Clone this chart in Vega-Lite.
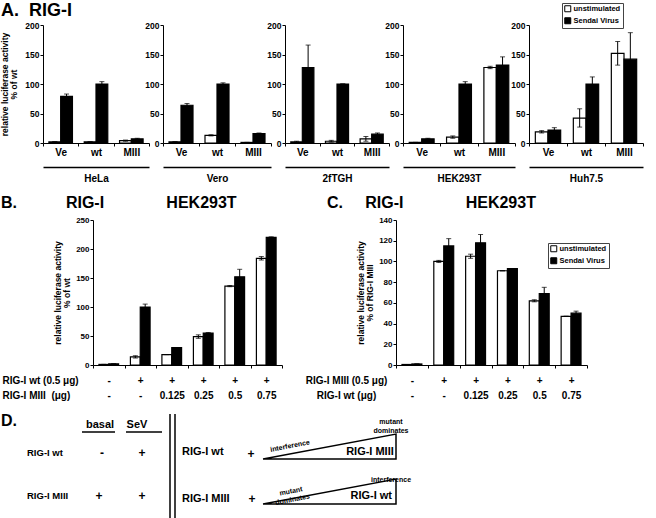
{
  "$schema": "https://vega.github.io/schema/vega-lite/v6.json",
  "background": "white",
  "padding": {"left": 0, "top": 2, "right": 0, "bottom": 0},
  "autosize": {"type": "pad"},
  "config": {
    "font": "Liberation Sans",
    "view": {"stroke": null},
    "axis": {"domainColor": "black", "tickColor": "black", "labelColor": "black", "titleColor": "black", "grid": false, "labelFont": "Liberation Sans", "titleFont": "Liberation Sans", "labelFontWeight": "bold", "titleFontWeight": "bold", "tickSize": 3, "labelPadding": 1, "domainWidth": 1, "tickWidth": 1, "labelOverlap": false},
    "legend": {"labelFont": "Liberation Sans", "labelFontWeight": "bold", "labelColor": "black", "labelFontSize": 7.5, "symbolType": "square", "symbolSize": 36, "symbolStrokeColor": "black", "symbolStrokeWidth": 1, "strokeColor": "#444", "padding": 2, "rowPadding": 1, "labelOffset": 2},
    "title": {"font": "Liberation Sans", "fontWeight": "bold", "color": "black"},
    "text": {"font": "Liberation Sans", "fontWeight": "bold", "color": "black", "fill": "black"}
  },
  "datasets": {
    "A": [
      {"line": "HeLa", "cond": "Ve", "stim": "unstimulated", "value": 2, "lo": 2, "hi": 2},
      {"line": "HeLa", "cond": "Ve", "stim": "Sendai Virus", "value": 79, "lo": 75, "hi": 83},
      {"line": "HeLa", "cond": "wt", "stim": "unstimulated", "value": 2, "lo": 2, "hi": 2},
      {"line": "HeLa", "cond": "wt", "stim": "Sendai Virus", "value": 100, "lo": 96, "hi": 104},
      {"line": "HeLa", "cond": "MIII", "stim": "unstimulated", "value": 4, "lo": 3, "hi": 5},
      {"line": "HeLa", "cond": "MIII", "stim": "Sendai Virus", "value": 7, "lo": 6, "hi": 8},
      {"line": "Vero", "cond": "Ve", "stim": "unstimulated", "value": 2, "lo": 2, "hi": 2},
      {"line": "Vero", "cond": "Ve", "stim": "Sendai Virus", "value": 64, "lo": 61, "hi": 67},
      {"line": "Vero", "cond": "wt", "stim": "unstimulated", "value": 13, "lo": 12, "hi": 14},
      {"line": "Vero", "cond": "wt", "stim": "Sendai Virus", "value": 100, "lo": 98, "hi": 102},
      {"line": "Vero", "cond": "MIII", "stim": "unstimulated", "value": 1, "lo": 1, "hi": 1},
      {"line": "Vero", "cond": "MIII", "stim": "Sendai Virus", "value": 16, "lo": 15, "hi": 17},
      {"line": "2fTGH", "cond": "Ve", "stim": "unstimulated", "value": 2, "lo": 1, "hi": 3},
      {"line": "2fTGH", "cond": "Ve", "stim": "Sendai Virus", "value": 128, "lo": 90, "hi": 166},
      {"line": "2fTGH", "cond": "wt", "stim": "unstimulated", "value": 3, "lo": 1.5, "hi": 4.5},
      {"line": "2fTGH", "cond": "wt", "stim": "Sendai Virus", "value": 100, "lo": 100, "hi": 100},
      {"line": "2fTGH", "cond": "MIII", "stim": "unstimulated", "value": 7, "lo": 3, "hi": 11},
      {"line": "2fTGH", "cond": "MIII", "stim": "Sendai Virus", "value": 15, "lo": 13, "hi": 17},
      {"line": "HEK293T", "cond": "Ve", "stim": "unstimulated", "value": 1, "lo": 1, "hi": 1},
      {"line": "HEK293T", "cond": "Ve", "stim": "Sendai Virus", "value": 7, "lo": 6, "hi": 8},
      {"line": "HEK293T", "cond": "wt", "stim": "unstimulated", "value": 10, "lo": 8, "hi": 12},
      {"line": "HEK293T", "cond": "wt", "stim": "Sendai Virus", "value": 100, "lo": 96, "hi": 104},
      {"line": "HEK293T", "cond": "MIII", "stim": "unstimulated", "value": 128, "lo": 126, "hi": 130},
      {"line": "HEK293T", "cond": "MIII", "stim": "Sendai Virus", "value": 132, "lo": 118, "hi": 146},
      {"line": "Huh7.5", "cond": "Ve", "stim": "unstimulated", "value": 19, "lo": 17, "hi": 21},
      {"line": "Huh7.5", "cond": "Ve", "stim": "Sendai Virus", "value": 22, "lo": 18, "hi": 26},
      {"line": "Huh7.5", "cond": "wt", "stim": "unstimulated", "value": 42, "lo": 27, "hi": 58},
      {"line": "Huh7.5", "cond": "wt", "stim": "Sendai Virus", "value": 100, "lo": 88, "hi": 112},
      {"line": "Huh7.5", "cond": "MIII", "stim": "unstimulated", "value": 152, "lo": 132, "hi": 172},
      {"line": "Huh7.5", "cond": "MIII", "stim": "Sendai Virus", "value": 142, "lo": 97, "hi": 187}
    ],
    "B": [
      {"cond": "-|-", "stim": "unstimulated", "value": 1, "lo": 1, "hi": 1},
      {"cond": "-|-", "stim": "Sendai Virus", "value": 2, "lo": 2, "hi": 2},
      {"cond": "+|-", "stim": "unstimulated", "value": 14, "lo": 12, "hi": 16},
      {"cond": "+|-", "stim": "Sendai Virus", "value": 100, "lo": 95, "hi": 105},
      {"cond": "+|0.125", "stim": "unstimulated", "value": 18, "lo": 18, "hi": 18},
      {"cond": "+|0.125", "stim": "Sendai Virus", "value": 30, "lo": 30, "hi": 30},
      {"cond": "+|0.25", "stim": "unstimulated", "value": 49, "lo": 46, "hi": 52},
      {"cond": "+|0.25", "stim": "Sendai Virus", "value": 55, "lo": 54, "hi": 56},
      {"cond": "+|0.5", "stim": "unstimulated", "value": 136, "lo": 135, "hi": 137},
      {"cond": "+|0.5", "stim": "Sendai Virus", "value": 152, "lo": 139, "hi": 165},
      {"cond": "+|0.75", "stim": "unstimulated", "value": 184, "lo": 181, "hi": 187},
      {"cond": "+|0.75", "stim": "Sendai Virus", "value": 220, "lo": 219, "hi": 221}
    ],
    "C": [
      {"cond": "-|-", "stim": "unstimulated", "value": 0.5, "lo": 0.5, "hi": 0.5},
      {"cond": "-|-", "stim": "Sendai Virus", "value": 1, "lo": 1, "hi": 1},
      {"cond": "+|-", "stim": "unstimulated", "value": 100, "lo": 99, "hi": 101},
      {"cond": "+|-", "stim": "Sendai Virus", "value": 115, "lo": 108, "hi": 122},
      {"cond": "+|0.125", "stim": "unstimulated", "value": 105, "lo": 103, "hi": 107},
      {"cond": "+|0.125", "stim": "Sendai Virus", "value": 118, "lo": 110, "hi": 126},
      {"cond": "+|0.25", "stim": "unstimulated", "value": 91, "lo": 91, "hi": 91},
      {"cond": "+|0.25", "stim": "Sendai Virus", "value": 93, "lo": 93, "hi": 93},
      {"cond": "+|0.5", "stim": "unstimulated", "value": 62, "lo": 61, "hi": 63},
      {"cond": "+|0.5", "stim": "Sendai Virus", "value": 69, "lo": 63, "hi": 75},
      {"cond": "+|0.75", "stim": "unstimulated", "value": 47, "lo": 47, "hi": 47},
      {"cond": "+|0.75", "stim": "Sendai Virus", "value": 50, "lo": 48, "hi": 52}
    ],
    "Dbig": [{"t": "D.", "u": 0, "v": 32.7}],
    "Dhead": [{"t": "basal", "u": 24.75, "v": 31.3}, {"t": "SeV", "u": 34, "v": 31.3}],
    "Drow": [{"t": "RIG-I wt", "u": 6.5, "v": 22}, {"t": "RIG-I MIII", "u": 6.5, "v": 7.7}],
    "Drow2": [{"t": "RIG-I wt", "u": 45.25, "v": 22.5}, {"t": "RIG-I MIII", "u": 45.25, "v": 6.7}],
    "Dsign": [
      {"t": "-", "u": 25.25, "v": 22}, {"t": "+", "u": 35.25, "v": 22},
      {"t": "+", "u": 24.5, "v": 7.7}, {"t": "+", "u": 35.25, "v": 7.7},
      {"t": "+", "u": 62.5, "v": 21.7}, {"t": "+", "u": 62.75, "v": 6.7}
    ],
    "Dtri_label": [{"t": "RIG-I MIII", "u": 98.2, "v": 22.5}, {"t": "RIG-I wt", "u": 97.75, "v": 7.7}],
    "Dsmall": [{"t": "mutant\ndominates", "u": 97.5, "v": 32.3}, {"t": "interference", "u": 97.5, "v": 13}],
    "Dslant": [{"t": "interference", "u": 72.25, "v": 24.3}, {"t": "mutant\ndominates", "u": 72.5, "v": 9.2}],
    "Dlines": [
      {"u": 20.25, "u2": 28.5, "v": 29, "v2": 29},
      {"u": 31.25, "u2": 40.25, "v": 29, "v2": 29},
      {"u": 42.25, "u2": 42.25, "v": 0, "v2": 35},
      {"u": 43.5, "u2": 43.5, "v": 0, "v2": 35}
    ],
    "Dtri": [
      {"id": 1, "o": 1, "u": 65.5, "v": 20}, {"id": 1, "o": 2, "u": 98.75, "v": 20}, {"id": 1, "o": 3, "u": 98.75, "v": 28.3}, {"id": 1, "o": 4, "u": 65.5, "v": 20},
      {"id": 2, "o": 1, "u": 65.5, "v": 5}, {"id": 2, "o": 2, "u": 98.75, "v": 5}, {"id": 2, "o": 3, "u": 98.75, "v": 13.3}, {"id": 2, "o": 4, "u": 65.5, "v": 5}
    ]
  },
  "concat": [
    {
      "hconcat": [
        {
          "width": 106, "height": 118,
          "data": {"name": "A"},
          "transform": [{"filter": "datum.line === 'HeLa'"}],
          "title": {"text": "A.\u00a0\u00a0RIG-I", "anchor": "start", "frame": "group", "dx": -42, "fontSize": 18, "offset": 1},
          "layer": [
            {"layer": [
              {"mark": {"type": "bar", "stroke": "black", "strokeWidth": 1.2},
               "encoding": {
                 "x": {"field": "cond", "type": "nominal", "sort": ["Ve", "wt", "MIII"], "scale": {"paddingInner": 0, "paddingOuter": 0}, "axis": {"title": null, "tickBand": "extent", "labelAngle": 0, "labelFontSize": 10}},
                 "xOffset": {"field": "stim", "type": "nominal", "sort": ["unstimulated", "Sendai Virus"], "scale": {"paddingInner": 0, "paddingOuter": 0.5}},
                 "y": {"field": "value", "type": "quantitative", "scale": {"domain": [0, 200], "nice": false}, "axis": {"values": [0, 50, 100, 150, 200], "title": ["relative luciferase activity", "% of wt"], "titleFontSize": 8.5, "titleLineHeight": 9, "titlePadding": 6, "labelFontSize": 8.5}},
                 "fill": {"field": "stim", "type": "nominal", "scale": {"domain": ["unstimulated", "Sendai Virus"], "range": ["white", "black"]}, "legend": null}
               }},
              {"mark": {"type": "rule", "color": "black", "strokeWidth": 1},
               "encoding": {"x": {"field": "cond", "type": "nominal", "sort": ["Ve", "wt", "MIII"]}, "xOffset": {"field": "stim", "type": "nominal", "sort": ["unstimulated", "Sendai Virus"]}, "y": {"field": "lo", "type": "quantitative", "axis": {"values": [0, 50, 100, 150, 200]}}, "y2": {"field": "hi"}}},
              {"mark": {"type": "tick", "color": "black", "thickness": 1, "size": 5},
               "encoding": {"x": {"field": "cond", "type": "nominal", "sort": ["Ve", "wt", "MIII"]}, "xOffset": {"field": "stim", "type": "nominal", "sort": ["unstimulated", "Sendai Virus"]}, "y": {"field": "hi", "type": "quantitative", "axis": {"values": [0, 50, 100, 150, 200]}}}},
              {"mark": {"type": "tick", "color": "black", "thickness": 1, "size": 5},
               "encoding": {"x": {"field": "cond", "type": "nominal", "sort": ["Ve", "wt", "MIII"]}, "xOffset": {"field": "stim", "type": "nominal", "sort": ["unstimulated", "Sendai Virus"]}, "y": {"field": "lo", "type": "quantitative", "axis": {"values": [0, 50, 100, 150, 200]}}}}
            ]},
            {"mark": {"type": "rule", "opacity": 0},
             "encoding": {"x": {"field": "cond", "type": "nominal", "sort": ["Ve", "wt", "MIII"], "axis": {"orient": "bottom", "offset": 24, "domainWidth": 1.5, "ticks": false, "labels": false, "title": "HeLa", "titleFontSize": 10, "titlePadding": 6}}}}
          ],
          "resolve": {"scale": {"x": "independent"}, "axis": {"x": "independent"}}
        },
        {
          "width": 108, "height": 118,
          "data": {"name": "A"},
          "transform": [{"filter": "datum.line === 'Vero'"}],
          "layer": [
            {"layer": [
              {"mark": {"type": "bar", "stroke": "black", "strokeWidth": 1.2},
               "encoding": {
                 "x": {"field": "cond", "type": "nominal", "sort": ["Ve", "wt", "MIII"], "scale": {"paddingInner": 0, "paddingOuter": 0}, "axis": {"title": null, "tickBand": "extent", "labelAngle": 0, "labelFontSize": 10}},
                 "xOffset": {"field": "stim", "type": "nominal", "sort": ["unstimulated", "Sendai Virus"], "scale": {"paddingInner": 0, "paddingOuter": 0.5}},
                 "y": {"field": "value", "type": "quantitative", "scale": {"domain": [0, 200], "nice": false}, "axis": {"values": [0, 50, 100, 150, 200], "title": null, "labelFontSize": 8.5}},
                 "fill": {"field": "stim", "type": "nominal", "scale": {"domain": ["unstimulated", "Sendai Virus"], "range": ["white", "black"]}, "legend": null}
               }},
              {"mark": {"type": "rule", "color": "black", "strokeWidth": 1},
               "encoding": {"x": {"field": "cond", "type": "nominal", "sort": ["Ve", "wt", "MIII"]}, "xOffset": {"field": "stim", "type": "nominal", "sort": ["unstimulated", "Sendai Virus"]}, "y": {"field": "lo", "type": "quantitative", "axis": {"values": [0, 50, 100, 150, 200]}}, "y2": {"field": "hi"}}},
              {"mark": {"type": "tick", "color": "black", "thickness": 1, "size": 5},
               "encoding": {"x": {"field": "cond", "type": "nominal", "sort": ["Ve", "wt", "MIII"]}, "xOffset": {"field": "stim", "type": "nominal", "sort": ["unstimulated", "Sendai Virus"]}, "y": {"field": "hi", "type": "quantitative", "axis": {"values": [0, 50, 100, 150, 200]}}}},
              {"mark": {"type": "tick", "color": "black", "thickness": 1, "size": 5},
               "encoding": {"x": {"field": "cond", "type": "nominal", "sort": ["Ve", "wt", "MIII"]}, "xOffset": {"field": "stim", "type": "nominal", "sort": ["unstimulated", "Sendai Virus"]}, "y": {"field": "lo", "type": "quantitative", "axis": {"values": [0, 50, 100, 150, 200]}}}}
            ]},
            {"mark": {"type": "rule", "opacity": 0},
             "encoding": {"x": {"field": "cond", "type": "nominal", "sort": ["Ve", "wt", "MIII"], "axis": {"orient": "bottom", "offset": 24, "domainWidth": 1.5, "ticks": false, "labels": false, "title": "Vero", "titleFontSize": 10, "titlePadding": 6}}}}
          ],
          "resolve": {"scale": {"x": "independent"}, "axis": {"x": "independent"}}
        },
        {
          "width": 104, "height": 118,
          "data": {"name": "A"},
          "transform": [{"filter": "datum.line === '2fTGH'"}],
          "layer": [
            {"layer": [
              {"mark": {"type": "bar", "stroke": "black", "strokeWidth": 1.2},
               "encoding": {
                 "x": {"field": "cond", "type": "nominal", "sort": ["Ve", "wt", "MIII"], "scale": {"paddingInner": 0, "paddingOuter": 0}, "axis": {"title": null, "tickBand": "extent", "labelAngle": 0, "labelFontSize": 10}},
                 "xOffset": {"field": "stim", "type": "nominal", "sort": ["unstimulated", "Sendai Virus"], "scale": {"paddingInner": 0, "paddingOuter": 0.5}},
                 "y": {"field": "value", "type": "quantitative", "scale": {"domain": [0, 200], "nice": false}, "axis": {"values": [0, 50, 100, 150, 200], "title": null, "labelFontSize": 8.5}},
                 "fill": {"field": "stim", "type": "nominal", "scale": {"domain": ["unstimulated", "Sendai Virus"], "range": ["white", "black"]}, "legend": null}
               }},
              {"mark": {"type": "rule", "color": "black", "strokeWidth": 1},
               "encoding": {"x": {"field": "cond", "type": "nominal", "sort": ["Ve", "wt", "MIII"]}, "xOffset": {"field": "stim", "type": "nominal", "sort": ["unstimulated", "Sendai Virus"]}, "y": {"field": "lo", "type": "quantitative", "axis": {"values": [0, 50, 100, 150, 200]}}, "y2": {"field": "hi"}}},
              {"mark": {"type": "tick", "color": "black", "thickness": 1, "size": 5},
               "encoding": {"x": {"field": "cond", "type": "nominal", "sort": ["Ve", "wt", "MIII"]}, "xOffset": {"field": "stim", "type": "nominal", "sort": ["unstimulated", "Sendai Virus"]}, "y": {"field": "hi", "type": "quantitative", "axis": {"values": [0, 50, 100, 150, 200]}}}},
              {"mark": {"type": "tick", "color": "black", "thickness": 1, "size": 5},
               "encoding": {"x": {"field": "cond", "type": "nominal", "sort": ["Ve", "wt", "MIII"]}, "xOffset": {"field": "stim", "type": "nominal", "sort": ["unstimulated", "Sendai Virus"]}, "y": {"field": "lo", "type": "quantitative", "axis": {"values": [0, 50, 100, 150, 200]}}}}
            ]},
            {"mark": {"type": "rule", "opacity": 0},
             "encoding": {"x": {"field": "cond", "type": "nominal", "sort": ["Ve", "wt", "MIII"], "axis": {"orient": "bottom", "offset": 24, "domainWidth": 1.5, "ticks": false, "labels": false, "title": "2fTGH", "titleFontSize": 10, "titlePadding": 6}}}}
          ],
          "resolve": {"scale": {"x": "independent"}, "axis": {"x": "independent"}}
        },
        {
          "width": 112, "height": 118,
          "data": {"name": "A"},
          "transform": [{"filter": "datum.line === 'HEK293T'"}],
          "layer": [
            {"layer": [
              {"mark": {"type": "bar", "stroke": "black", "strokeWidth": 1.2},
               "encoding": {
                 "x": {"field": "cond", "type": "nominal", "sort": ["Ve", "wt", "MIII"], "scale": {"paddingInner": 0, "paddingOuter": 0}, "axis": {"title": null, "tickBand": "extent", "labelAngle": 0, "labelFontSize": 10}},
                 "xOffset": {"field": "stim", "type": "nominal", "sort": ["unstimulated", "Sendai Virus"], "scale": {"paddingInner": 0, "paddingOuter": 0.5}},
                 "y": {"field": "value", "type": "quantitative", "scale": {"domain": [0, 200], "nice": false}, "axis": {"values": [0, 50, 100, 150, 200], "title": null, "labelFontSize": 8.5}},
                 "fill": {"field": "stim", "type": "nominal", "scale": {"domain": ["unstimulated", "Sendai Virus"], "range": ["white", "black"]}, "legend": null}
               }},
              {"mark": {"type": "rule", "color": "black", "strokeWidth": 1},
               "encoding": {"x": {"field": "cond", "type": "nominal", "sort": ["Ve", "wt", "MIII"]}, "xOffset": {"field": "stim", "type": "nominal", "sort": ["unstimulated", "Sendai Virus"]}, "y": {"field": "lo", "type": "quantitative", "axis": {"values": [0, 50, 100, 150, 200]}}, "y2": {"field": "hi"}}},
              {"mark": {"type": "tick", "color": "black", "thickness": 1, "size": 5},
               "encoding": {"x": {"field": "cond", "type": "nominal", "sort": ["Ve", "wt", "MIII"]}, "xOffset": {"field": "stim", "type": "nominal", "sort": ["unstimulated", "Sendai Virus"]}, "y": {"field": "hi", "type": "quantitative", "axis": {"values": [0, 50, 100, 150, 200]}}}},
              {"mark": {"type": "tick", "color": "black", "thickness": 1, "size": 5},
               "encoding": {"x": {"field": "cond", "type": "nominal", "sort": ["Ve", "wt", "MIII"]}, "xOffset": {"field": "stim", "type": "nominal", "sort": ["unstimulated", "Sendai Virus"]}, "y": {"field": "lo", "type": "quantitative", "axis": {"values": [0, 50, 100, 150, 200]}}}}
            ]},
            {"mark": {"type": "rule", "opacity": 0},
             "encoding": {"x": {"field": "cond", "type": "nominal", "sort": ["Ve", "wt", "MIII"], "axis": {"orient": "bottom", "offset": 24, "domainWidth": 1.5, "ticks": false, "labels": false, "title": "HEK293T", "titleFontSize": 10, "titlePadding": 6}}}}
          ],
          "resolve": {"scale": {"x": "independent"}, "axis": {"x": "independent"}}
        },
        {
          "width": 114, "height": 118,
          "data": {"name": "A"},
          "transform": [{"filter": "datum.line === 'Huh7.5'"}],
          "layer": [
            {"layer": [
              {"mark": {"type": "bar", "stroke": "black", "strokeWidth": 1.2},
               "encoding": {
                 "x": {"field": "cond", "type": "nominal", "sort": ["Ve", "wt", "MIII"], "scale": {"paddingInner": 0, "paddingOuter": 0}, "axis": {"title": null, "tickBand": "extent", "labelAngle": 0, "labelFontSize": 10}},
                 "xOffset": {"field": "stim", "type": "nominal", "sort": ["unstimulated", "Sendai Virus"], "scale": {"paddingInner": 0, "paddingOuter": 0.5}},
                 "y": {"field": "value", "type": "quantitative", "scale": {"domain": [0, 200], "nice": false}, "axis": {"values": [0, 50, 100, 150, 200], "title": null, "labelFontSize": 8.5}},
                 "fill": {"field": "stim", "type": "nominal", "scale": {"domain": ["unstimulated", "Sendai Virus"], "range": ["white", "black"]}, "legend": {"orient": "none", "legendX": 33, "legendY": -22, "title": null}}
               }},
              {"mark": {"type": "rule", "color": "black", "strokeWidth": 1},
               "encoding": {"x": {"field": "cond", "type": "nominal", "sort": ["Ve", "wt", "MIII"]}, "xOffset": {"field": "stim", "type": "nominal", "sort": ["unstimulated", "Sendai Virus"]}, "y": {"field": "lo", "type": "quantitative", "axis": {"values": [0, 50, 100, 150, 200]}}, "y2": {"field": "hi"}}},
              {"mark": {"type": "tick", "color": "black", "thickness": 1, "size": 5},
               "encoding": {"x": {"field": "cond", "type": "nominal", "sort": ["Ve", "wt", "MIII"]}, "xOffset": {"field": "stim", "type": "nominal", "sort": ["unstimulated", "Sendai Virus"]}, "y": {"field": "hi", "type": "quantitative", "axis": {"values": [0, 50, 100, 150, 200]}}}},
              {"mark": {"type": "tick", "color": "black", "thickness": 1, "size": 5},
               "encoding": {"x": {"field": "cond", "type": "nominal", "sort": ["Ve", "wt", "MIII"]}, "xOffset": {"field": "stim", "type": "nominal", "sort": ["unstimulated", "Sendai Virus"]}, "y": {"field": "lo", "type": "quantitative", "axis": {"values": [0, 50, 100, 150, 200]}}}}
            ]},
            {"mark": {"type": "rule", "opacity": 0},
             "encoding": {"x": {"field": "cond", "type": "nominal", "sort": ["Ve", "wt", "MIII"], "axis": {"orient": "bottom", "offset": 24, "domainWidth": 1.5, "ticks": false, "labels": false, "title": "Huh7.5", "titleFontSize": 10, "titlePadding": 6}}}}
          ],
          "resolve": {"scale": {"x": "independent"}, "axis": {"x": "independent"}}
        }
      ],
      "spacing": -6,
      "resolve": {"scale": {"x": "independent", "y": "independent", "fill": "independent", "xOffset": "independent"}, "legend": {"fill": "independent"}}
    },
    {
      "hconcat": [
        {"width": 1, "height": 1, "data": {"values": [{}]}, "mark": {"type": "point", "opacity": 0}},
        {
          "hconcat": [
            {
              "width": 189, "height": 145,
              "data": {"name": "B"},
              "title": {"text": "B.\u00a0\u00a0\u00a0\u00a0\u00a0\u00a0\u00a0\u00a0\u00a0\u00a0\u00a0RIG-I\u00a0\u00a0\u00a0\u00a0\u00a0\u00a0\u00a0\u00a0\u00a0\u00a0\u00a0\u00a0\u00a0\u00a0HEK293T", "anchor": "start", "frame": "group", "dx": -92, "fontSize": 16, "offset": 5},
              "layer": [
                {"mark": {"type": "bar", "stroke": "black", "strokeWidth": 1.2},
                 "encoding": {
                   "x": {"field": "cond", "type": "nominal", "sort": ["-|-", "+|-", "+|0.125", "+|0.25", "+|0.5", "+|0.75"], "scale": {"paddingInner": 0, "paddingOuter": 0},
                         "axis": {"tickBand": "extent", "labelAngle": 0, "labelExpr": "isValid(datum.value) ? split(datum.value, '|') : ''", "labelLineHeight": 15, "labelFontSize": 10, "labelPadding": 7,
                                  "title": ["RIG-I wt (0.5 μg)", "RIG-I MIII\u00a0 (μg)"], "titleFontSize": 10, "titleLineHeight": 15, "titleAlign": "left", "titleAnchor": "start", "titleX": -91, "titleY": 10, "titleBaseline": "top"}},
                   "xOffset": {"field": "stim", "type": "nominal", "sort": ["unstimulated", "Sendai Virus"], "scale": {"paddingInner": 0, "paddingOuter": 0.6}},
                   "y": {"field": "value", "type": "quantitative", "scale": {"domain": [0, 250], "nice": false}, "axis": {"values": [0, 50, 100, 150, 200, 250], "title": ["relative luciferase activity", "% of wt"], "titleFontSize": 8.5, "titleLineHeight": 9, "titlePadding": 4, "labelFontSize": 8}},
                   "fill": {"field": "stim", "type": "nominal", "scale": {"domain": ["unstimulated", "Sendai Virus"], "range": ["white", "black"]}, "legend": null}
                 }},
                {"mark": {"type": "rule", "color": "black", "strokeWidth": 1},
                 "encoding": {"x": {"field": "cond", "type": "nominal", "sort": ["-|-", "+|-", "+|0.125", "+|0.25", "+|0.5", "+|0.75"]}, "xOffset": {"field": "stim", "type": "nominal", "sort": ["unstimulated", "Sendai Virus"]}, "y": {"field": "lo", "type": "quantitative", "axis": {"values": [0, 50, 100, 150, 200, 250]}}, "y2": {"field": "hi"}}},
                {"mark": {"type": "tick", "color": "black", "thickness": 1, "size": 5},
                 "encoding": {"x": {"field": "cond", "type": "nominal", "sort": ["-|-", "+|-", "+|0.125", "+|0.25", "+|0.5", "+|0.75"]}, "xOffset": {"field": "stim", "type": "nominal", "sort": ["unstimulated", "Sendai Virus"]}, "y": {"field": "hi", "type": "quantitative", "axis": {"values": [0, 50, 100, 150, 200, 250]}}}},
                {"mark": {"type": "tick", "color": "black", "thickness": 1, "size": 5},
                 "encoding": {"x": {"field": "cond", "type": "nominal", "sort": ["-|-", "+|-", "+|0.125", "+|0.25", "+|0.5", "+|0.75"]}, "xOffset": {"field": "stim", "type": "nominal", "sort": ["unstimulated", "Sendai Virus"]}, "y": {"field": "lo", "type": "quantitative", "axis": {"values": [0, 50, 100, 150, 200, 250]}}}}
              ]
            },
            {
              "width": 191, "height": 145,
              "data": {"name": "C"},
              "title": {"text": "C.\u00a0\u00a0\u00a0\u00a0\u00a0RIG-I\u00a0\u00a0\u00a0\u00a0\u00a0\u00a0\u00a0\u00a0\u00a0\u00a0\u00a0\u00a0\u00a0\u00a0HEK293T", "anchor": "start", "frame": "group", "dx": -69, "fontSize": 16, "offset": 5},
              "layer": [
                {"mark": {"type": "bar", "stroke": "black", "strokeWidth": 1.2},
                 "encoding": {
                   "x": {"field": "cond", "type": "nominal", "sort": ["-|-", "+|-", "+|0.125", "+|0.25", "+|0.5", "+|0.75"], "scale": {"paddingInner": 0, "paddingOuter": 0},
                         "axis": {"tickBand": "extent", "labelAngle": 0, "labelExpr": "isValid(datum.value) ? split(datum.value, '|') : ''", "labelLineHeight": 15, "labelFontSize": 10, "labelPadding": 7,
                                  "title": ["RIG-I MIII (0.5 μg)", "RIG-I wt (μg)"], "titleFontSize": 10, "titleLineHeight": 15, "titleAlign": "center", "titleAnchor": "start", "titleX": -50, "titleY": 10, "titleBaseline": "top"}},
                   "xOffset": {"field": "stim", "type": "nominal", "sort": ["unstimulated", "Sendai Virus"], "scale": {"paddingInner": 0, "paddingOuter": 0.6}},
                   "y": {"field": "value", "type": "quantitative", "scale": {"domain": [0, 140], "nice": false}, "axis": {"values": [0, 20, 40, 60, 80, 100, 120, 140], "title": ["relative luciferase activity", "% of RIG-I MIII"], "titleFontSize": 8.5, "titleLineHeight": 9, "titlePadding": 4, "labelFontSize": 8}},
                   "fill": {"field": "stim", "type": "nominal", "scale": {"domain": ["unstimulated", "Sendai Virus"], "range": ["white", "black"]}, "legend": {"orient": "none", "legendX": 152, "legendY": 23, "title": null}}
                 }},
                {"mark": {"type": "rule", "color": "black", "strokeWidth": 1},
                 "encoding": {"x": {"field": "cond", "type": "nominal", "sort": ["-|-", "+|-", "+|0.125", "+|0.25", "+|0.5", "+|0.75"]}, "xOffset": {"field": "stim", "type": "nominal", "sort": ["unstimulated", "Sendai Virus"]}, "y": {"field": "lo", "type": "quantitative", "axis": {"values": [0, 20, 40, 60, 80, 100, 120, 140]}}, "y2": {"field": "hi"}}},
                {"mark": {"type": "tick", "color": "black", "thickness": 1, "size": 5},
                 "encoding": {"x": {"field": "cond", "type": "nominal", "sort": ["-|-", "+|-", "+|0.125", "+|0.25", "+|0.5", "+|0.75"]}, "xOffset": {"field": "stim", "type": "nominal", "sort": ["unstimulated", "Sendai Virus"]}, "y": {"field": "hi", "type": "quantitative", "axis": {"values": [0, 20, 40, 60, 80, 100, 120, 140]}}}},
                {"mark": {"type": "tick", "color": "black", "thickness": 1, "size": 5},
                 "encoding": {"x": {"field": "cond", "type": "nominal", "sort": ["-|-", "+|-", "+|0.125", "+|0.25", "+|0.5", "+|0.75"]}, "xOffset": {"field": "stim", "type": "nominal", "sort": ["unstimulated", "Sendai Virus"]}, "y": {"field": "lo", "type": "quantitative", "axis": {"values": [0, 20, 40, 60, 80, 100, 120, 140]}}}}
              ]
            }
          ],
          "spacing": 22,
          "resolve": {"scale": {"x": "independent", "y": "independent", "fill": "independent", "xOffset": "independent"}, "legend": {"fill": "independent"}}
        }
      ],
      "spacing": -46,
      "resolve": {"scale": {"x": "independent", "y": "independent", "fill": "independent", "xOffset": "independent"}, "legend": {"fill": "independent"}}
    },
    {
      "width": 400, "height": 105,
      "layer": [
        {"data": {"name": "Dtri"}, "mark": {"type": "line", "color": "black", "strokeWidth": 1.5},
         "encoding": {"x": {"field": "u", "type": "quantitative", "scale": {"domain": [10.5, 110.5], "nice": false, "zero": false}, "axis": null}, "y": {"field": "v", "type": "quantitative", "scale": {"domain": [0, 35], "nice": false, "zero": false}, "axis": null}, "order": {"field": "o"}, "detail": {"field": "id"}}},
        {"data": {"name": "Dlines"}, "mark": {"type": "rule", "color": "black", "strokeWidth": 1.5},
         "encoding": {"x": {"field": "u", "type": "quantitative"}, "x2": {"field": "u2"}, "y": {"field": "v", "type": "quantitative"}, "y2": {"field": "v2"}}},
        {"data": {"name": "Dbig"}, "mark": {"type": "text", "fontSize": 16, "align": "left", "baseline": "middle", "fill": "black"},
         "encoding": {"x": {"field": "u", "type": "quantitative"}, "y": {"field": "v", "type": "quantitative"}, "text": {"field": "t"}}},
        {"data": {"name": "Dhead"}, "mark": {"type": "text", "fontSize": 11, "align": "center", "baseline": "middle", "fill": "black"},
         "encoding": {"x": {"field": "u", "type": "quantitative"}, "y": {"field": "v", "type": "quantitative"}, "text": {"field": "t"}}},
        {"data": {"name": "Drow"}, "mark": {"type": "text", "fontSize": 9.5, "align": "left", "baseline": "middle", "fill": "black"},
         "encoding": {"x": {"field": "u", "type": "quantitative"}, "y": {"field": "v", "type": "quantitative"}, "text": {"field": "t"}}},
        {"data": {"name": "Drow2"}, "mark": {"type": "text", "fontSize": 11, "align": "left", "baseline": "middle", "fill": "black"},
         "encoding": {"x": {"field": "u", "type": "quantitative"}, "y": {"field": "v", "type": "quantitative"}, "text": {"field": "t"}}},
        {"data": {"name": "Dsign"}, "mark": {"type": "text", "fontSize": 12, "align": "center", "baseline": "middle", "fill": "black"},
         "encoding": {"x": {"field": "u", "type": "quantitative"}, "y": {"field": "v", "type": "quantitative"}, "text": {"field": "t"}}},
        {"data": {"name": "Dtri_label"}, "mark": {"type": "text", "fontSize": 11, "align": "right", "baseline": "middle", "fill": "black"},
         "encoding": {"x": {"field": "u", "type": "quantitative"}, "y": {"field": "v", "type": "quantitative"}, "text": {"field": "t"}}},
        {"data": {"name": "Dsmall"}, "mark": {"type": "text", "fontSize": 7, "align": "center", "baseline": "middle", "lineBreak": "\n", "lineHeight": 8.5, "fill": "black"},
         "encoding": {"x": {"field": "u", "type": "quantitative"}, "y": {"field": "v", "type": "quantitative"}, "text": {"field": "t"}}},
        {"data": {"name": "Dslant"}, "mark": {"type": "text", "fontSize": 7, "align": "center", "baseline": "middle", "lineBreak": "\n", "lineHeight": 8.5, "angle": 349, "fill": "black"},
         "encoding": {"x": {"field": "u", "type": "quantitative"}, "y": {"field": "v", "type": "quantitative"}, "text": {"field": "t"}}}
      ]
    }
  ],
  "columns": 1,
  "align": "none",
  "spacing": 12,
  "resolve": {"scale": {"x": "independent", "y": "independent", "fill": "independent", "xOffset": "independent"}, "legend": {"fill": "independent"}}
}
